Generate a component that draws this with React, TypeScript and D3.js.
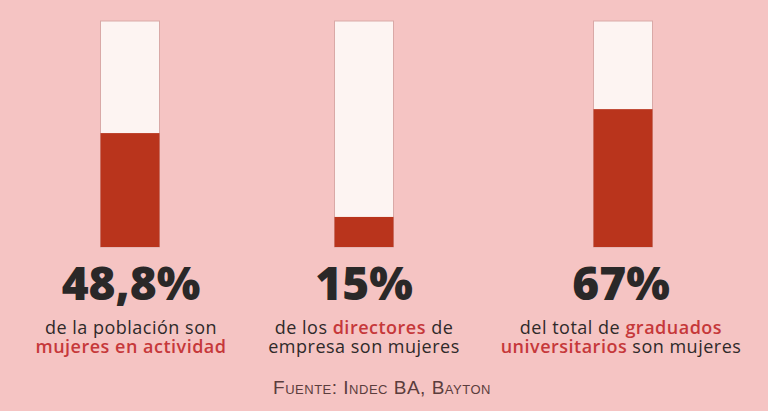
import React from "react";
import * as d3 from "d3";

const categories = ["poblacion", "directores", "graduados"];
const percentLabels = ["48,8%", "15%", "67%"];
// visual fill share of each bar
const fillValues = [50.4, 13.3, 61];
const line1Parts: [string, boolean][][] = [
  [["de la población son", false]],
  [["de los ", false], ["directores", true], [" de", false]],
  [["del total de ", false], ["graduados", true]],
];
const line2Parts: [string, boolean][][] = [
  [["mujeres en actividad", true]],
  [["empresa son mujeres", false]],
  [["universitarios", true], [" son mujeres", false]],
];
const sourceText = "Fuente: Indec BA, Bayton";

const W = 768;
const H = 411;

export default function App() {
  const x = d3.scaleOrdinal<string, number>().domain(categories).range([130, 364, 623]);
  const y = d3.scaleLinear().domain([0, 100]).range([247, 21]);
  const barW = 59;
  const textX = [131, 364, 621];
  return (
    <svg width={W} height={H} style={{ position: "fixed", left: 0, top: 0, display: "block" }}>
      <rect x={0} y={0} width={W} height={H} fill="#f5c4c3" />
      {categories.map((c, i) => {
        const cx = x(c)!;
        const tx = textX[i];
        return (
          <g key={c}>
            <rect x={cx - barW / 2} y={y(100)} width={barW} height={y(0) - y(100)} fill="#fdf4f2" stroke="#d9a9a7" strokeWidth={1} />
            <rect x={cx - barW / 2} y={y(fillValues[i])} width={barW} height={y(0) - y(fillValues[i])} fill="#b9341c" />
            <text x={tx} y={300} textAnchor="middle" fontFamily="'Open Sans', sans-serif" fontWeight={800} fontSize={46} fill="#2a2828">
              {percentLabels[i]}
            </text>
            <text x={tx} y={334} textAnchor="middle" fontFamily="'Open Sans', sans-serif" fontSize={18} letterSpacing={0.5} fill="#2f2a2a">
              {line1Parts[i].map(([t, red], k) => (
                <tspan key={k} fill={red ? "#c6383a" : "#2f2a2a"} fontWeight={red ? 600 : 400}>{t}</tspan>
              ))}
            </text>
            <text x={tx} y={353} textAnchor="middle" fontFamily="'Open Sans', sans-serif" fontSize={18} letterSpacing={0.5} fill="#2f2a2a">
              {line2Parts[i].map(([t, red], k) => (
                <tspan key={k} fill={red ? "#c6383a" : "#2f2a2a"} fontWeight={red ? 600 : 400}>{t}</tspan>
              ))}
            </text>
          </g>
        );
      })}
      <text x={382} y={394} textAnchor="middle" fontFamily="'Liberation Sans', Arial, sans-serif" fontSize={19} letterSpacing={0.5} fill="#5b3d3d" style={{ fontVariant: "small-caps" }}>
        {sourceText}
      </text>
    </svg>
  );
}
